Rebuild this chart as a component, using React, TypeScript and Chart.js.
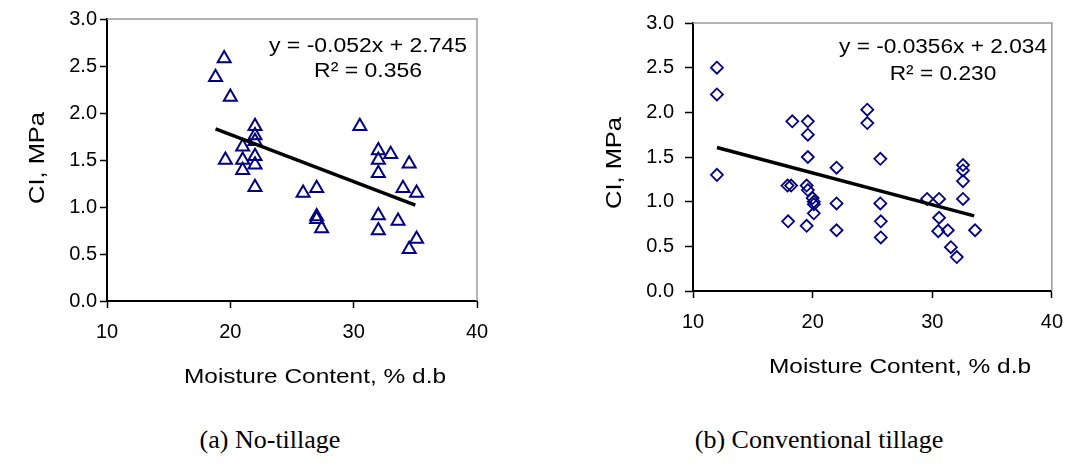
import React, { useEffect, useRef } from "react";
import { Chart, registerables } from "chart.js";
Chart.register(...registerables);

// ---------- data ----------
const xTickValues = [10, 20, 30, 40];
const yTickValues = [0, 0.5, 1.0, 1.5, 2.0, 2.5, 3.0];

// (a) No-tillage
const ntMoisture = [19.5, 18.8, 20.0, 22.0, 22.0, 22.0, 21.0, 19.6, 21.0, 22.0, 22.0, 21.0, 22.0, 25.9, 27.0, 30.5, 32.0, 32.0, 33.0, 34.5, 32.0, 34.0, 35.1, 27.0, 27.0, 27.4, 32.0, 33.6, 32.0, 35.1, 34.5];
const ntCI = [2.58, 2.38, 2.17, 1.86, 1.76, 1.7, 1.64, 1.5, 1.5, 1.54, 1.45, 1.39, 1.21, 1.15, 1.2, 1.86, 1.6, 1.5, 1.56, 1.46, 1.36, 1.2, 1.15, 0.9, 0.87, 0.77, 0.91, 0.85, 0.75, 0.66, 0.55];
const ntTrendX = [18.8, 35.0];
const ntTrendY = [1.83, 1.02];
const ntEquation = ["y = -0.052x + 2.745", "R\u00B2 = 0.356"];

// (b) Conventional tillage
const ctMoisture = [12.0, 12.0, 12.0, 18.3, 19.6, 19.6, 19.6, 17.9, 18.2, 19.5, 19.6, 20.0, 20.1, 20.1, 20.1, 22.0, 22.0, 17.95, 19.5, 22.0, 25.66, 25.66, 25.7, 25.7, 24.57, 24.57, 29.57, 30.57, 30.57, 30.5, 31.3, 32.57, 32.57, 32.57, 32.57, 33.58, 31.56, 32.05];
const ctCI = [2.5, 2.2, 1.3, 1.9, 1.9, 1.75, 1.5, 1.18, 1.18, 1.18, 1.13, 1.04, 1.0, 0.97, 0.87, 1.38, 0.98, 0.78, 0.73, 0.68, 1.48, 0.98, 0.78, 0.6, 2.03, 1.88, 1.03, 1.03, 0.82, 0.67, 0.68, 1.41, 1.35, 1.23, 1.03, 0.68, 0.49, 0.38];
const ctTrendX = [12.0, 33.5];
const ctTrendY = [1.607, 0.841];
const ctEquation = ["y = -0.0356x + 2.034", "R\u00B2 = 0.230"];

const xTitle = "Moisture Content, % d.b";
const yTitle = "CI, MPa";
const captions = ["(a) No-tillage", "(b) Conventional tillage"];

const NAVY = "#000080";
const SANS = "'Liberation Sans', Arial, sans-serif";

type PanelCfg = {
  xs: number[];
  ys: number[];
  tx: number[];
  ty: number[];
  eq: string[];
  marker: "triangle" | "rectRot";
  radius: number;
  width: number;
  canvasW: number;
  area: { left: number; right: number; top: number; bottom: number };
  yTickLen: number;
  yTickPad: number;
  yTitlePos: [number, number];
  xTitlePos: [number, number];
  eqPos: [number, number, number];
  eqWidth: number;
};

function drawStretched(ctx: any, text: string, cx: number, cy: number, font: string, targetW: number, rot = 0) {
  ctx.save();
  ctx.font = font;
  ctx.textAlign = "center";
  ctx.textBaseline = "middle";
  const w = ctx.measureText(text).width;
  const sx = targetW > 0 ? targetW / w : 1;
  ctx.translate(cx, cy);
  if (rot) ctx.rotate(rot);
  ctx.scale(sx, 1);
  ctx.fillText(text, 0, 0);
  ctx.restore();
}

function Panel({ cfg, left }: { cfg: PanelCfg; left: number }) {
  const ref = useRef<HTMLCanvasElement | null>(null);
  useEffect(() => {
    if (!ref.current) return;
    const a = cfg.area;
    const H = 400;
    const decor = {
      id: "decor",
      beforeDatasetsDraw(chart: any) {
        const { ctx, chartArea } = chart;
        ctx.save();
        ctx.strokeStyle = "#9a9a9a";
        ctx.lineWidth = 1.5;
        ctx.beginPath();
        ctx.moveTo(chartArea.left, chartArea.top);
        ctx.lineTo(chartArea.right, chartArea.top);
        ctx.lineTo(chartArea.right, chartArea.bottom);
        ctx.stroke();
        ctx.restore();
      },
      afterDraw(chart: any) {
        const { ctx } = chart;
        ctx.save();
        ctx.fillStyle = "#000";
        drawStretched(ctx, xTitle, cfg.xTitlePos[0], cfg.xTitlePos[1], `20px ${SANS}`, 262);
        drawStretched(ctx, yTitle, cfg.yTitlePos[0], cfg.yTitlePos[1], `22px ${SANS}`, 92, -Math.PI / 2);
        const f = `20px ${SANS}`;
        ctx.font = f;
        const w0 = ctx.measureText(cfg.eq[0]).width;
        const sx = cfg.eqWidth / w0;
        const w1 = ctx.measureText(cfg.eq[1]).width * sx;
        drawStretched(ctx, cfg.eq[0], cfg.eqPos[0], cfg.eqPos[1], f, cfg.eqWidth);
        drawStretched(ctx, cfg.eq[1], cfg.eqPos[0], cfg.eqPos[2], f, w1);
        ctx.restore();
      },
    };
    const chart = new Chart(ref.current, {
      type: "scatter",
      data: {
        datasets: [
          {
            type: "scatter",
            data: cfg.xs.map((x, i) => ({ x, y: cfg.ys[i] })),
            pointStyle: cfg.marker,
            pointRadius: cfg.radius,
            pointBorderWidth: cfg.width,
            borderColor: NAVY,
            backgroundColor: "rgba(0,0,0,0)",
            pointBackgroundColor: "rgba(0,0,0,0)",
            pointBorderColor: NAVY,
            order: 2,
          } as any,
          {
            type: "line",
            data: cfg.tx.map((x, i) => ({ x, y: cfg.ty[i] })),
            borderColor: "#000",
            borderWidth: 3.5,
            pointRadius: 0,
            fill: false,
            order: 1,
          } as any,
        ],
      },
      options: {
        animation: false,
        responsive: false,
        maintainAspectRatio: false,
        events: [],
        layout: { padding: { left: 0, top: a.top, right: cfg.canvasW - a.right, bottom: 0 } },
        plugins: { legend: { display: false }, tooltip: { enabled: false }, title: { display: false } },
        scales: {
          x: {
            type: "linear",
            min: 10,
            max: 40,
            afterFit: (s: any) => { s.height = H - a.bottom; },
            afterBuildTicks: (s: any) => { s.ticks = xTickValues.map((v) => ({ value: v })); },
            ticks: { color: "#000", font: { family: SANS, size: 20 }, padding: 12, callback: (v: any) => String(v) },
            grid: { drawOnChartArea: false, drawTicks: true, tickLength: 7, tickColor: "#000", tickWidth: 1.5 },
            border: { display: true, color: "#000", width: 2 },
          },
          y: {
            type: "linear",
            min: 0,
            max: 3,
            afterFit: (s: any) => { s.width = a.left; },
            afterBuildTicks: (s: any) => { s.ticks = yTickValues.map((v) => ({ value: v })); },
            ticks: { color: "#000", font: { family: SANS, size: 20 }, padding: cfg.yTickPad, callback: (v: any) => Number(v).toFixed(1) },
            grid: { drawOnChartArea: false, drawTicks: true, tickLength: cfg.yTickLen, tickColor: "#000", tickWidth: 1.5 },
            border: { display: true, color: "#000", width: 2 },
          },
        },
      } as any,
      plugins: [decor],
    });
    return () => chart.destroy();
  }, []);
  return (
    <canvas
      ref={ref}
      width={cfg.canvasW}
      height={400}
      style={{ position: "absolute", left, top: 0, width: cfg.canvasW, height: 400 }}
    />
  );
}

const leftCfg: PanelCfg = {
  xs: ntMoisture,
  ys: ntCI,
  tx: ntTrendX,
  ty: ntTrendY,
  eq: ntEquation,
  marker: "triangle",
  radius: 7.5,
  width: 2,
  canvasW: 540,
  area: { left: 107, right: 477, top: 19, bottom: 301 },
  yTickLen: 7,
  yTickPad: 3,
  yTitlePos: [38, 158],
  xTitlePos: [315, 377],
  eqPos: [368, 46, 71],
  eqWidth: 198,
};

const rightCfg: PanelCfg = {
  xs: ctMoisture,
  ys: ctCI,
  tx: ctTrendX,
  ty: ctTrendY,
  eq: ctEquation,
  marker: "rectRot",
  radius: 6,
  width: 1.8,
  canvasW: 535,
  area: { left: 153, right: 518, top: 19, bottom: 291 },
  yTickLen: 8,
  yTickPad: 11,
  yTitlePos: [75, 163],
  xTitlePos: [360, 367],
  eqPos: [403, 47, 74],
  eqWidth: 208,
};

export default function App() {
  return (
    <div style={{ position: "fixed", left: 0, top: 0, width: 1075, height: 466, background: "#fff", overflow: "hidden" }}>
      <Panel cfg={leftCfg} left={0} />
      <Panel cfg={rightCfg} left={540} />
      {captions.map((c, i) => (
        <div
          key={c}
          style={{
            position: "absolute",
            left: i === 0 ? 120 : 669,
            width: 300,
            top: 424,
            textAlign: "center",
            whiteSpace: "nowrap",
            fontFamily: "'Liberation Serif', 'Times New Roman', serif",
            fontSize: 26,
            lineHeight: "32px",
            color: "#000",
          }}
        >
          {c}
        </div>
      ))}
    </div>
  );
}
